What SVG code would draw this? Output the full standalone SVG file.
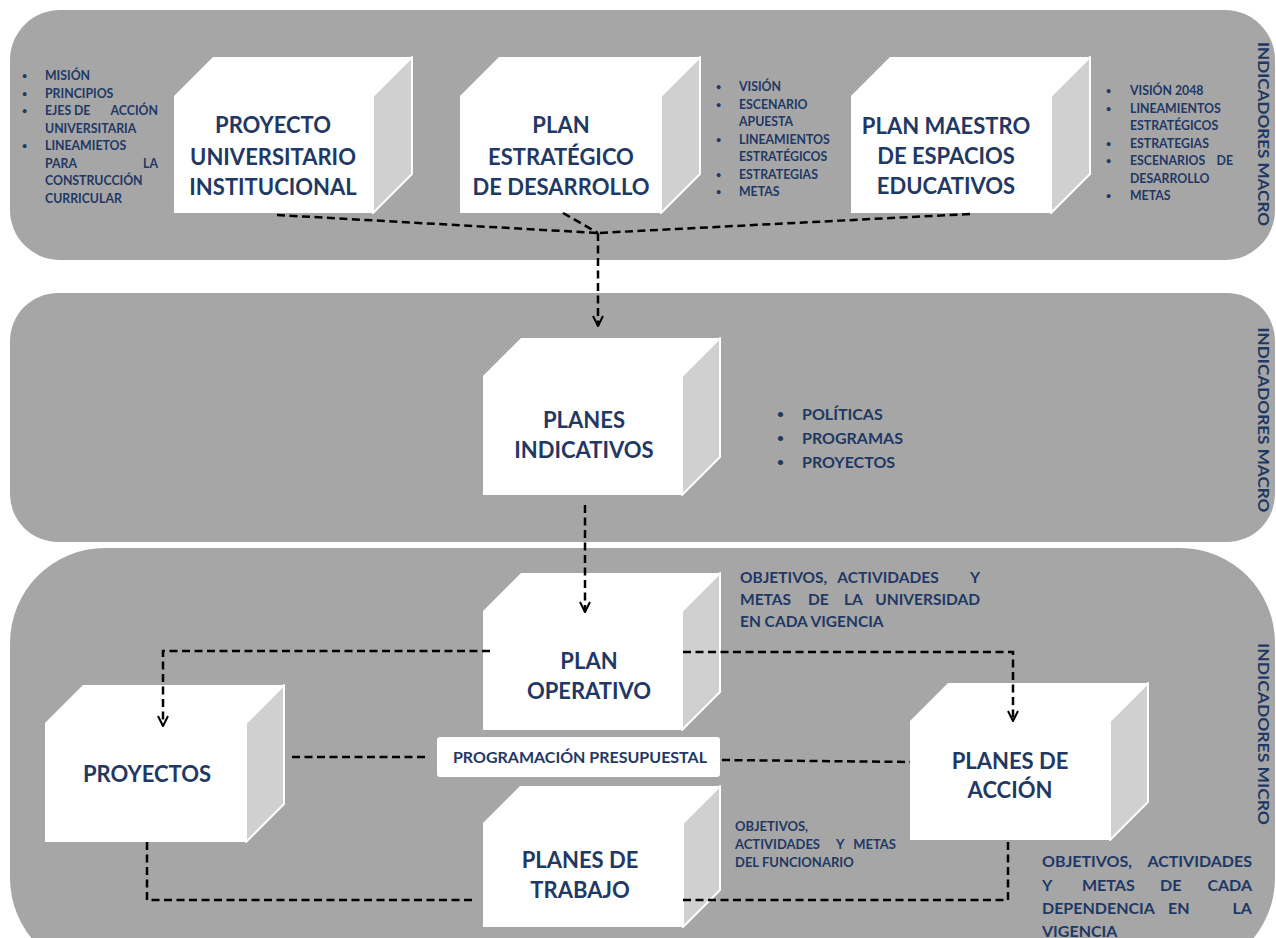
<svg xmlns="http://www.w3.org/2000/svg" width="1276" height="938" viewBox="0 0 1276 938">
<defs>
<style>
.panel{fill:#a6a6a6;}
.front{fill:#ffffff;}
.side{fill:#d0d0d0;stroke:#ffffff;stroke-width:2;stroke-linejoin:round;}
.t{font-family:Lato,"Liberation Sans",sans-serif;font-weight:bold;fill:#1f3864;}
.title{font-size:22px;text-anchor:middle;}
.sm{font-size:12.3px;}
.md{font-size:15.5px;}
.lg{font-size:16px;}
.sn{font-size:13px;}
.bl{font-size:9px;}
.vlab{font-size:16px;text-anchor:middle;}
.end{text-anchor:end;}
.mid{text-anchor:middle;}
.con{fill:none;stroke:#000;stroke-width:2.5;stroke-dasharray:8 4.5;}
</style>
<marker id="arr" viewBox="0 0 12 12" refX="11" refY="6" markerWidth="12" markerHeight="12" markerUnits="userSpaceOnUse" orient="auto">
<path d="M1,1 L11,6 L1,11" fill="none" stroke="#000" stroke-width="2" stroke-dasharray="none"/>
</marker>
</defs>
<rect width="1276" height="938" fill="#ffffff"/>

<g id="panels">
<rect class="panel" x="10" y="10" width="1265" height="250" rx="50" ry="50"/>
<rect class="panel" x="10" y="293" width="1265" height="249" rx="48" ry="48"/>
<rect class="panel" x="10" y="548" width="1265" height="425" rx="95" ry="95"/>
</g>

<g id="labels-side">
<text class="t vlab" transform="translate(1258,134) rotate(90)" textLength="184" lengthAdjust="spacingAndGlyphs">INDICADORES MACRO</text>
<text class="t vlab" transform="translate(1258,420) rotate(90)" textLength="185" lengthAdjust="spacingAndGlyphs">INDICADORES MACRO</text>
<text class="t vlab" transform="translate(1258,734) rotate(90)" textLength="182" lengthAdjust="spacingAndGlyphs">INDICADORES MICRO</text>
</g>

<g id="n-pui">
<path class="front" d="M174,96 L213,57 L412,57 L373,96 L373,213 L174,213 Z"/>
<path class="side" d="M373,96 L412,57 L412,174 L373,213 Z"/>
<text class="t title" x="273" y="133">PROYECTO</text>
<text class="t title" x="273" y="165">UNIVERSITARIO</text>
<text class="t title" x="273" y="195">INSTITUCIONAL</text>
</g>

<g id="n-ped">
<path class="front" d="M460,96 L499,57 L700,57 L661,96 L661,213 L460,213 Z"/>
<path class="side" d="M661,96 L700,57 L700,174 L661,213 Z"/>
<text class="t title" x="561" y="133">PLAN</text>
<text class="t title" x="561" y="165">ESTRATÉGICO</text>
<text class="t title" x="561" y="195">DE DESARROLLO</text>
</g>

<g id="n-pmee">
<path class="front" d="M851,96 L890,57 L1090,57 L1051,96 L1051,213 L851,213 Z"/>
<path class="side" d="M1051,96 L1090,57 L1090,174 L1051,213 Z"/>
<text class="t title" x="946" y="134">PLAN MAESTRO</text>
<text class="t title" x="946" y="164">DE ESPACIOS</text>
<text class="t title" x="946" y="194">EDUCATIVOS</text>
</g>

<g id="n-pi">
<path class="front" d="M483,376 L521,338 L720,338 L682,376 L682,495 L483,495 Z"/>
<path class="side" d="M682,376 L720,338 L720,457 L682,495 Z"/>
<text class="t title" x="584" y="428">PLANES</text>
<text class="t title" x="584" y="458">INDICATIVOS</text>
</g>

<g id="n-po">
<path class="front" d="M483,611 L521,573 L720,573 L682,611 L682,730 L483,730 Z"/>
<path class="side" d="M682,611 L720,573 L720,692 L682,730 Z"/>
<text class="t title" x="589" y="669">PLAN</text>
<text class="t title" x="589" y="699">OPERATIVO</text>
</g>

<g id="n-proy">
<path class="front" d="M45,723 L83,685 L284,685 L246,723 L246,842 L45,842 Z"/>
<path class="side" d="M246,723 L284,685 L284,804 L246,842 Z"/>
<text class="t title" x="147" y="782">PROYECTOS</text>
</g>

<g id="n-pda">
<path class="front" d="M910,721 L948,683 L1148,683 L1110,721 L1110,840 L910,840 Z"/>
<path class="side" d="M1110,721 L1148,683 L1148,802 L1110,840 Z"/>
<text class="t title" x="1010" y="769">PLANES DE</text>
<text class="t title" x="1010" y="798">ACCIÓN</text>
</g>

<g id="n-pdt">
<path class="front" d="M483,823 L520,786 L720,786 L683,823 L683,927 L483,927 Z"/>
<path class="side" d="M683,823 L720,786 L720,890 L683,927 Z"/>
<text class="t title" x="580" y="868">PLANES DE</text>
<text class="t title" x="580" y="898">TRABAJO</text>
</g>

<g id="n-prog">
<rect x="437" y="737" width="283" height="40" rx="3" fill="#ffffff"/>
<text class="t mid" x="580" y="763" font-size="16">PROGRAMACIÓN PRESUPUESTAL</text>
</g>

<g id="connectors">
<path class="con" d="M277,215 L598,233"/>
<path class="con" d="M563,213 L598,233"/>
<path class="con" d="M970,214 L598,233"/>
<path class="con" d="M598,233 L598,326" marker-end="url(#arr)"/>
<path class="con" d="M585,505 L585,612" marker-end="url(#arr)"/>
<path class="con" d="M490,651 L163,651 L163,726" marker-end="url(#arr)"/>
<path class="con" d="M683,652 L1013,652 L1013,721" marker-end="url(#arr)"/>
<path class="con" d="M292,757 L428,757"/>
<path class="con" d="M722,760 L910,762"/>
<path class="con" d="M147,842 L147,900 L472,900"/>
<path class="con" d="M683,900 L1008,900 L1008,842"/>
</g>

<g id="list-pui">
<text class="t bl" x="22" y="79">•</text><text class="t sm" x="45" y="80">MISIÓN</text>
<text class="t bl" x="22" y="96.5">•</text><text class="t sm" x="45" y="97.5">PRINCIPIOS</text>
<text class="t bl" x="22" y="114">•</text><text class="t sm" x="45" y="115">EJES</text><text class="t sm" x="74" y="115">DE</text><text class="t sm end" x="158" y="115">ACCIÓN</text>
<text class="t sm" x="45" y="132.5">UNIVERSITARIA</text>
<text class="t bl" x="22" y="149">•</text><text class="t sm" x="45" y="150">LINEAMIETOS</text>
<text class="t sm" x="45" y="167.5">PARA</text><text class="t sm end" x="158" y="167.5">LA</text>
<text class="t sm" x="45" y="185">CONSTRUCCIÓN</text>
<text class="t sm" x="45" y="202.5">CURRICULAR</text>
</g>

<g id="list-ped">
<text class="t bl" x="716" y="90">•</text><text class="t sm" x="739" y="91">VISIÓN</text>
<text class="t bl" x="716" y="107.5">•</text><text class="t sm" x="739" y="108.5">ESCENARIO</text>
<text class="t sm" x="739" y="126">APUESTA</text>
<text class="t bl" x="716" y="142.5">•</text><text class="t sm" x="739" y="143.5">LINEAMIENTOS</text>
<text class="t sm" x="739" y="161">ESTRATÉGICOS</text>
<text class="t bl" x="716" y="177.5">•</text><text class="t sm" x="739" y="178.5">ESTRATEGIAS</text>
<text class="t bl" x="716" y="195">•</text><text class="t sm" x="739" y="196">METAS</text>
</g>

<g id="list-pmee">
<text class="t bl" x="1106" y="94">•</text><text class="t sm" x="1130" y="95">VISIÓN 2048</text>
<text class="t bl" x="1106" y="111.5">•</text><text class="t sm" x="1130" y="112.5">LINEAMIENTOS</text>
<text class="t sm" x="1130" y="130">ESTRATÉGICOS</text>
<text class="t bl" x="1106" y="146.5">•</text><text class="t sm" x="1130" y="147.5">ESTRATEGIAS</text>
<text class="t bl" x="1106" y="164">•</text><text class="t sm" x="1130" y="165">ESCENARIOS</text><text class="t sm end" x="1233" y="165">DE</text>
<text class="t sm" x="1130" y="182.5">DESARROLLO</text>
<text class="t bl" x="1106" y="199">•</text><text class="t sm" x="1130" y="200">METAS</text>
</g>

<g id="list-pi">
<text class="t" font-size="12" x="777" y="418">•</text><text class="t lg" x="802" y="420">POLÍTICAS</text>
<text class="t" font-size="12" x="777" y="442">•</text><text class="t lg" x="802" y="444">PROGRAMAS</text>
<text class="t" font-size="12" x="777" y="466">•</text><text class="t lg" x="802" y="468">PROYECTOS</text>
</g>

<g id="text-po">
<text class="t md" x="740" y="583">OBJETIVOS,</text><text class="t md mid" x="888" y="583">ACTIVIDADES</text><text class="t md end" x="980" y="583">Y</text>
<text class="t md" x="740" y="605">METAS</text><text class="t md" x="808" y="605">DE</text><text class="t md" x="844" y="605">LA</text><text class="t md end" x="980" y="605">UNIVERSIDAD</text>
<text class="t md" x="740" y="627">EN CADA VIGENCIA</text>
</g>

<g id="text-pdt">
<text class="t sn" x="735" y="831">OBJETIVOS,</text>
<text class="t sn" x="735" y="849">ACTIVIDADES</text><text class="t sn" x="836" y="849">Y</text><text class="t sn end" x="896" y="849">METAS</text>
<text class="t sn" x="735" y="867">DEL FUNCIONARIO</text>
</g>

<g id="text-pda">
<text class="t lg" x="1042" y="867">OBJETIVOS,</text><text class="t lg end" x="1252" y="867">ACTIVIDADES</text>
<text class="t lg" x="1042" y="891">Y</text><text class="t lg" x="1082" y="891">METAS</text><text class="t lg" x="1160" y="891">DE</text><text class="t lg end" x="1252" y="891">CADA</text>
<text class="t lg" x="1042" y="914">DEPENDENCIA</text><text class="t lg" x="1168" y="914">EN</text><text class="t lg end" x="1252" y="914">LA</text>
<text class="t lg" x="1042" y="937">VIGENCIA</text>
</g>
</svg>
